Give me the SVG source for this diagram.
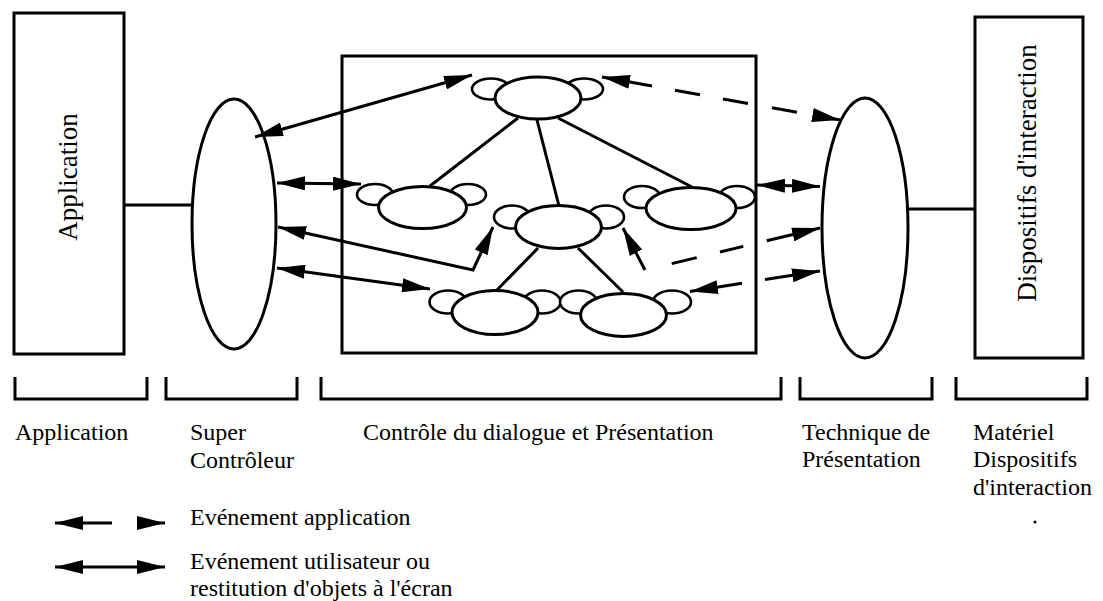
<svg xmlns="http://www.w3.org/2000/svg" width="1103" height="601" viewBox="0 0 1103 601">
<defs>
<style>
.s{fill:none;stroke:#000;stroke-width:3}
.w{fill:#fff;stroke:#000;stroke-width:3}
.e{fill:#fff;stroke:#000;stroke-width:2.6}
.c{fill:none;stroke:#000;stroke-width:3;marker-start:url(#ah);marker-end:url(#ah)}
.t{font-family:"Liberation Serif","Times New Roman",serif;font-size:24px;fill:#000}
.tr{font-size:27px}
</style>
<marker id="ah" viewBox="0 0 28 14" refX="28" refY="7" markerWidth="28" markerHeight="14" markerUnits="userSpaceOnUse" orient="auto-start-reverse">
<path d="M0,0 L28,7 L0,14 z" fill="#000"/>
</marker>
</defs>
<rect width="1103" height="601" fill="#fff"/>

<g id="application">
<rect class="w" x="14" y="13" width="110" height="341"/>
<text class="t tr" text-anchor="middle" transform="translate(77,177) rotate(-90)">Application</text>
</g>

<g id="super-controleur">
<ellipse class="w" cx="234" cy="224" rx="42" ry="125"/>
</g>

<g id="controle-dialogue">
<rect class="s" x="342" y="56" width="414" height="297"/>
</g>

<g id="technique-presentation">
<ellipse class="w" cx="865" cy="228" rx="43" ry="130"/>
</g>

<g id="dispositifs">
<rect class="w" x="975" y="17" width="108" height="341"/>
<text class="t tr" text-anchor="middle" transform="translate(1036,173) rotate(-90)">Dispositifs d'interaction</text>
</g>

<g id="connectors">
<path class="s" d="M124,205 H192"/>
<path class="s" d="M907,209 H975"/>
<path class="s" d="M518,118 L430,186 M537,120 L559,206 M558,118 L692,187 M538,248 L497,290 M578,248 L623,292"/>
<path class="c" d="M255,137 L472,75"/>
<path class="c" d="M277,183 L361,184"/>
<path class="c" d="M278,227 L473,270 L493,227"/>
<path class="c" d="M277,268 L430,289"/>
<path class="c" d="M602,77 L652,86 M675,90.2 L700,94.7 M723,98.9 L748,103.4 M772,107.7 L797,112.2 M813,115.1 L840,120"/>
<path class="c" d="M757,185 L820,186.5"/>
<path class="c" d="M623,228 L645,270 M671.7,263.6 L696.7,257.6 M720,252 L743.3,246.4 M766.7,240.8 L820,228"/>
<path class="c" d="M690,291.5 L742,283.3 M765,279.6 L820,271"/>
</g>

<g id="node-top">
<ellipse class="e" cx="491" cy="89" rx="19" ry="10.5"/>
<ellipse class="e" cx="584" cy="89" rx="19" ry="10.5"/>
<ellipse class="w" cx="538" cy="98" rx="43" ry="21"/>
</g>
<g id="node-left">
<ellipse class="e" cx="375" cy="194.5" rx="18" ry="10.5"/>
<ellipse class="e" cx="468" cy="194.5" rx="18" ry="10.5"/>
<ellipse class="w" cx="422.5" cy="207.5" rx="44" ry="21"/>
</g>
<g id="node-right">
<ellipse class="e" cx="642" cy="197" rx="18" ry="11"/>
<ellipse class="e" cx="737" cy="197" rx="18" ry="11"/>
<ellipse class="w" cx="691" cy="208.5" rx="45" ry="21"/>
</g>
<g id="node-center">
<ellipse class="e" cx="512" cy="217" rx="18" ry="11.5"/>
<ellipse class="e" cx="606" cy="217" rx="18" ry="11.5"/>
<ellipse class="w" cx="558.5" cy="227" rx="43" ry="21.5"/>
</g>
<g id="node-bottom-left">
<ellipse class="e" cx="448" cy="302" rx="18.5" ry="11.5"/>
<ellipse class="e" cx="542" cy="302" rx="18.5" ry="11.5"/>
<ellipse class="w" cx="495" cy="312.5" rx="43" ry="22"/>
</g>
<g id="node-bottom-right">
<ellipse class="e" cx="578.5" cy="302" rx="18.5" ry="11.5"/>
<ellipse class="e" cx="672" cy="302" rx="19" ry="11.5"/>
<ellipse class="w" cx="623.5" cy="315" rx="43" ry="21.5"/>
</g>

<g id="brackets">
<path class="s" d="M15,377 V399 H147 V377 M166,377 V399 H297 V377 M321,377 V399 H781 V377 M800,377 V399 H932 V377 M956,377 V399 H1087 V377"/>
</g>

<g id="labels">
<text class="t" x="15" y="440">Application</text>
<text class="t" x="190" y="440">Super</text>
<text class="t" x="190" y="468">Contrôleur</text>
<text class="t" x="363" y="440">Contrôle du dialogue et Présentation</text>
<text class="t" x="802" y="440">Technique de</text>
<text class="t" x="802" y="467">Présentation</text>
<text class="t" x="973" y="440">Matériel</text>
<text class="t" x="973" y="467">Dispositifs</text>
<text class="t" x="973" y="495">d'interaction</text>
<circle cx="1035" cy="522" r="1.5" fill="#000"/>
</g>

<g id="legend">
<path class="c" d="M55,523 L112,523 M137,523 L165,523"/>
<path class="c" d="M55,567 L165,567"/>
<text class="t" x="190" y="525">Evénement application</text>
<text class="t" x="190" y="569">Evénement utilisateur ou</text>
<text class="t" x="190" y="596">restitution d'objets à l'écran</text>
</g>
</svg>
